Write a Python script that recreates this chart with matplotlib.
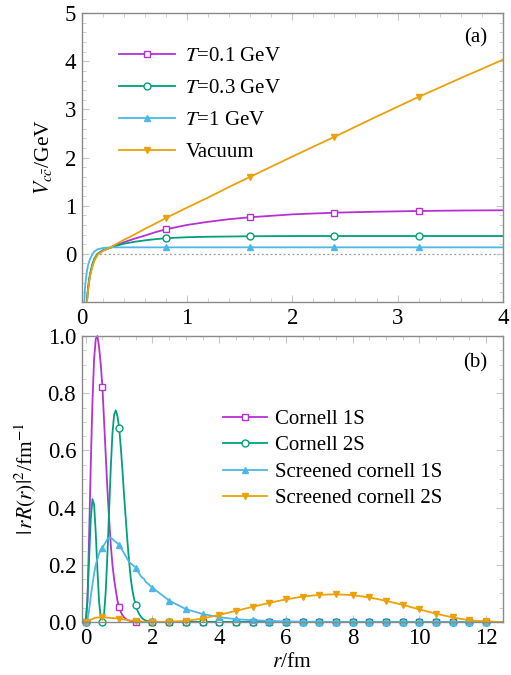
"""Heavy-quark potential and radial wave functions — two stacked panels."""

import matplotlib
matplotlib.use("Agg")
import matplotlib.pyplot as plt
from matplotlib.ticker import AutoMinorLocator, MultipleLocator
import numpy as np

plt.rcParams["font.family"] = ["Liberation Serif", "DejaVu Serif"]
plt.rcParams["mathtext.fontset"] = "stix"

# ---------------------------------------------------------------------------
# Panel (a): potential V(r) in GeV vs r in fm
# ---------------------------------------------------------------------------
r_a = np.array([0.02, 0.03, 0.04, 0.05, 0.06, 0.07, 0.08, 0.10, 0.12, 0.15,
                0.20, 0.25, 0.30, 0.40, 0.50, 0.60, 0.70, 0.80, 1.00, 1.20,
                1.40, 1.60, 2.00, 2.40, 2.80, 3.20, 3.60, 4.00])
v_t01 = [-2.80, -1.85, -1.35, -0.97, -0.74, -0.56, -0.43, -0.25, -0.12, -0.01,
         0.065, 0.11, 0.155, 0.24, 0.315, 0.38, 0.45, 0.51, 0.60, 0.665,
         0.72, 0.76, 0.82, 0.855, 0.875, 0.89, 0.90, 0.905]
v_t03 = [-2.75, -1.80, -1.30, -0.92, -0.70, -0.52, -0.40, -0.22, -0.10, 0.00,
         0.075, 0.11, 0.15, 0.21, 0.25, 0.28, 0.305, 0.325, 0.345, 0.355,
         0.36, 0.365, 0.37, 0.37, 0.37, 0.37, 0.37, 0.37]
v_t1 = [-1.30, -0.72, -0.50, -0.35, -0.24, -0.16, -0.10, -0.01, 0.05, 0.095,
        0.12, 0.13, 0.135, 0.135, 0.135, 0.135, 0.135, 0.135, 0.135, 0.135,
        0.135, 0.135, 0.135, 0.135, 0.135, 0.135, 0.135, 0.135]
v_vac = [-2.90, -1.90, -1.40, -1.00, -0.76, -0.58, -0.45, -0.27, -0.14, -0.02,
         0.06, 0.11, 0.17, 0.29, 0.40, 0.52, 0.63, 0.745, 0.96, 1.17,
         1.39, 1.60, 2.02, 2.43, 2.85, 3.26, 3.65, 4.03]
labels_a = [r"$T$=0.1 GeV", r"$T$=0.3 GeV", r"$T$=1 GeV", "Vacuum"]

# ---------------------------------------------------------------------------
# Panel (b): |rR(r)|^2 in fm^-1 vs r in fm
# ---------------------------------------------------------------------------
r_b = np.concatenate([np.arange(0.0, 1.99, 0.05), np.arange(2.0, 12.51, 0.5)])
psi_c1s = [0.0, 0.07, 0.30, 0.55, 0.77, 0.92, 0.99, 1.0, 0.96, 0.90,
           0.82, 0.70, 0.58, 0.46, 0.36, 0.27, 0.20, 0.15, 0.11, 0.075,
           0.052, 0.035, 0.024, 0.016, 0.011, 0.007, 0.005, 0.003, 0.002, 0.001,
           0.0005, 0.0, 0.0, 0.0, 0.0, 0.0, 0.0, 0.0, 0.0, 0.0,
           0.0, 0.0, 0.0, 0.0, 0.0, 0.0, 0.0, 0.0, 0.0, 0.0, 0.0,
           0.0, 0.0, 0.0, 0.0, 0.0, 0.0, 0.0, 0.0, 0.0, 0.0, 0.0]
psi_c2s = [0.0, 0.08, 0.22, 0.36, 0.43, 0.41, 0.31, 0.18, 0.07, 0.012,
           0.0, 0.03, 0.11, 0.24, 0.39, 0.54, 0.66, 0.725, 0.74, 0.72,
           0.68, 0.61, 0.53, 0.44, 0.36, 0.28, 0.21, 0.15, 0.11, 0.08,
           0.06, 0.04, 0.028, 0.019, 0.012, 0.008, 0.005, 0.003, 0.002, 0.001,
           0.0, 0.0, 0.0, 0.0, 0.0, 0.0, 0.0, 0.0, 0.0, 0.0, 0.0,
           0.0, 0.0, 0.0, 0.0, 0.0, 0.0, 0.0, 0.0, 0.0, 0.0, 0.0]
psi_s1s = [0.0, 0.01, 0.04, 0.09, 0.13, 0.17, 0.20, 0.22, 0.24, 0.25,
           0.26, 0.27, 0.28, 0.29, 0.295, 0.295, 0.29, 0.285, 0.28, 0.275,
           0.27, 0.26, 0.25, 0.24, 0.23, 0.22, 0.21, 0.205, 0.20, 0.195,
           0.19, 0.18, 0.17, 0.16, 0.155, 0.15, 0.14, 0.135, 0.13, 0.125,
           0.12, 0.075, 0.045, 0.028, 0.017, 0.010, 0.006, 0.004, 0.002, 0.001, 0.001,
           0.0, 0.0, 0.0, 0.0, 0.0, 0.0, 0.0, 0.0, 0.0, 0.0, 0.0]
psi_s2s = [0.0, 0.002, 0.005, 0.008, 0.011, 0.013, 0.015, 0.016, 0.016, 0.016,
           0.016, 0.016, 0.016, 0.015, 0.015, 0.014, 0.014, 0.013, 0.013, 0.012,
           0.012, 0.011, 0.010, 0.009, 0.008, 0.007, 0.006, 0.005, 0.005, 0.004,
           0.003, 0.003, 0.002, 0.002, 0.001, 0.001, 0.001, 0.0005, 0.0, 0.0,
           0.0, 0.001, 0.004, 0.012, 0.025, 0.039, 0.053, 0.067, 0.079, 0.089, 0.095,
           0.097, 0.094, 0.086, 0.074, 0.060, 0.044, 0.029, 0.016, 0.006, 0.002, 0.0]
labels_b = ["Cornell 1S", "Cornell 2S", "Screened cornell 1S", "Screened cornell 2S"]

colours = ["#b531d3", "#00a07c", "#4db8e8", "#eba10c"]
markers = [dict(marker="s", mfc="white"), dict(marker="o", mfc="white"),
           dict(marker="^"), dict(marker="v")]

fig = plt.figure(figsize=(5.11, 6.75), dpi=100)
ax_a = fig.add_axes([0.160, 0.5526, 0.824, 0.428])
ax_b = fig.add_axes([0.160, 0.0785, 0.824, 0.4237])


def _style(ax):
    for s in ax.spines.values():
        s.set_color("#8a8a8a")
        s.set_linewidth(1.0)
    ax.tick_params(which="both", direction="in", top=True, right=True,
                   color="#c8c8c8", labelsize=16.5, pad=4)
    ax.tick_params(which="major", length=5)
    ax.tick_params(which="minor", length=3)


# ── (a) ──────────────────────────────────────────────────────────────────────
mark_a = [int(np.argmin(np.abs(r_a - x))) for x in (0.8, 1.6, 2.4, 3.2)]
ax_a.axhline(0, color="#999999", lw=0.9, ls=(0, (1.5, 2)), zorder=1)
for ys, lab, c, mk in zip([v_t01, v_t03, v_t1, v_vac], labels_a, colours, markers):
    ax_a.plot(r_a, ys, color=c, lw=1.3, ms=5, mew=1.0, mec=c,
              markevery=mark_a, label=lab, **mk)
ax_a.set_xlim(0, 4)
ax_a.set_ylim(-1, 5)
ax_a.set_xticks([0, 1, 2, 3, 4])
ax_a.set_yticks([0, 1, 2, 3, 4, 5])
ax_a.xaxis.set_minor_locator(AutoMinorLocator(5))
ax_a.yaxis.set_minor_locator(AutoMinorLocator(5))
_style(ax_a)
ax_a.set_ylabel(r"$V_{c\bar{c}}$/GeV", fontsize=15.5, labelpad=8)
ax_a.text(0.935, 0.915, "(a)", transform=ax_a.transAxes, fontsize=15,
          ha="center", va="center")
ax_a.legend(loc="upper left", bbox_to_anchor=(0.063, 0.92), frameon=False,
            fontsize=15, handlelength=2.7, handletextpad=0.5,
            labelspacing=0.6, borderpad=0)

# ── (b) ──────────────────────────────────────────────────────────────────────
mark_b = [i for i, x in enumerate(r_b) if abs(x * 2 - round(x * 2)) < 1e-6 and x <= 12.0]
for ys, lab, c, mk in zip([psi_c1s, psi_c2s, psi_s1s, psi_s2s], labels_b, colours, markers):
    ax_b.plot(r_b, ys, color=c, lw=1.3, ms=5, mew=1.0, mec=c,
              markevery=mark_b, label=lab, clip_on=False, **mk)
ax_b.set_xlim(-0.12, 12.5)
ax_b.set_ylim(0, 1.0)
ax_b.set_xticks([0, 2, 4, 6, 8, 10, 12])
ax_b.set_yticks([0.0, 0.2, 0.4, 0.6, 0.8, 1.0])
ax_b.yaxis.set_major_formatter(plt.FormatStrFormatter("%.1f"))
ax_b.xaxis.set_minor_locator(MultipleLocator(0.5))
ax_b.yaxis.set_minor_locator(AutoMinorLocator(4))
_style(ax_b)
ax_b.set_xlabel(r"$r$/fm", fontsize=15.5, labelpad=3)
ax_b.set_ylabel(r"$|\,rR(r)|^2$/fm$^{-1}$", fontsize=15.5, labelpad=6)
ax_b.text(0.935, 0.905, "(b)", transform=ax_b.transAxes, fontsize=15,
          ha="center", va="center")
ax_b.legend(loc="upper left", bbox_to_anchor=(0.311, 0.78), frameon=False,
            fontsize=15, handlelength=2.1, handletextpad=0.4,
            labelspacing=0.33, borderpad=0)

plt.savefig("out.png", dpi=100)
plt.close()
